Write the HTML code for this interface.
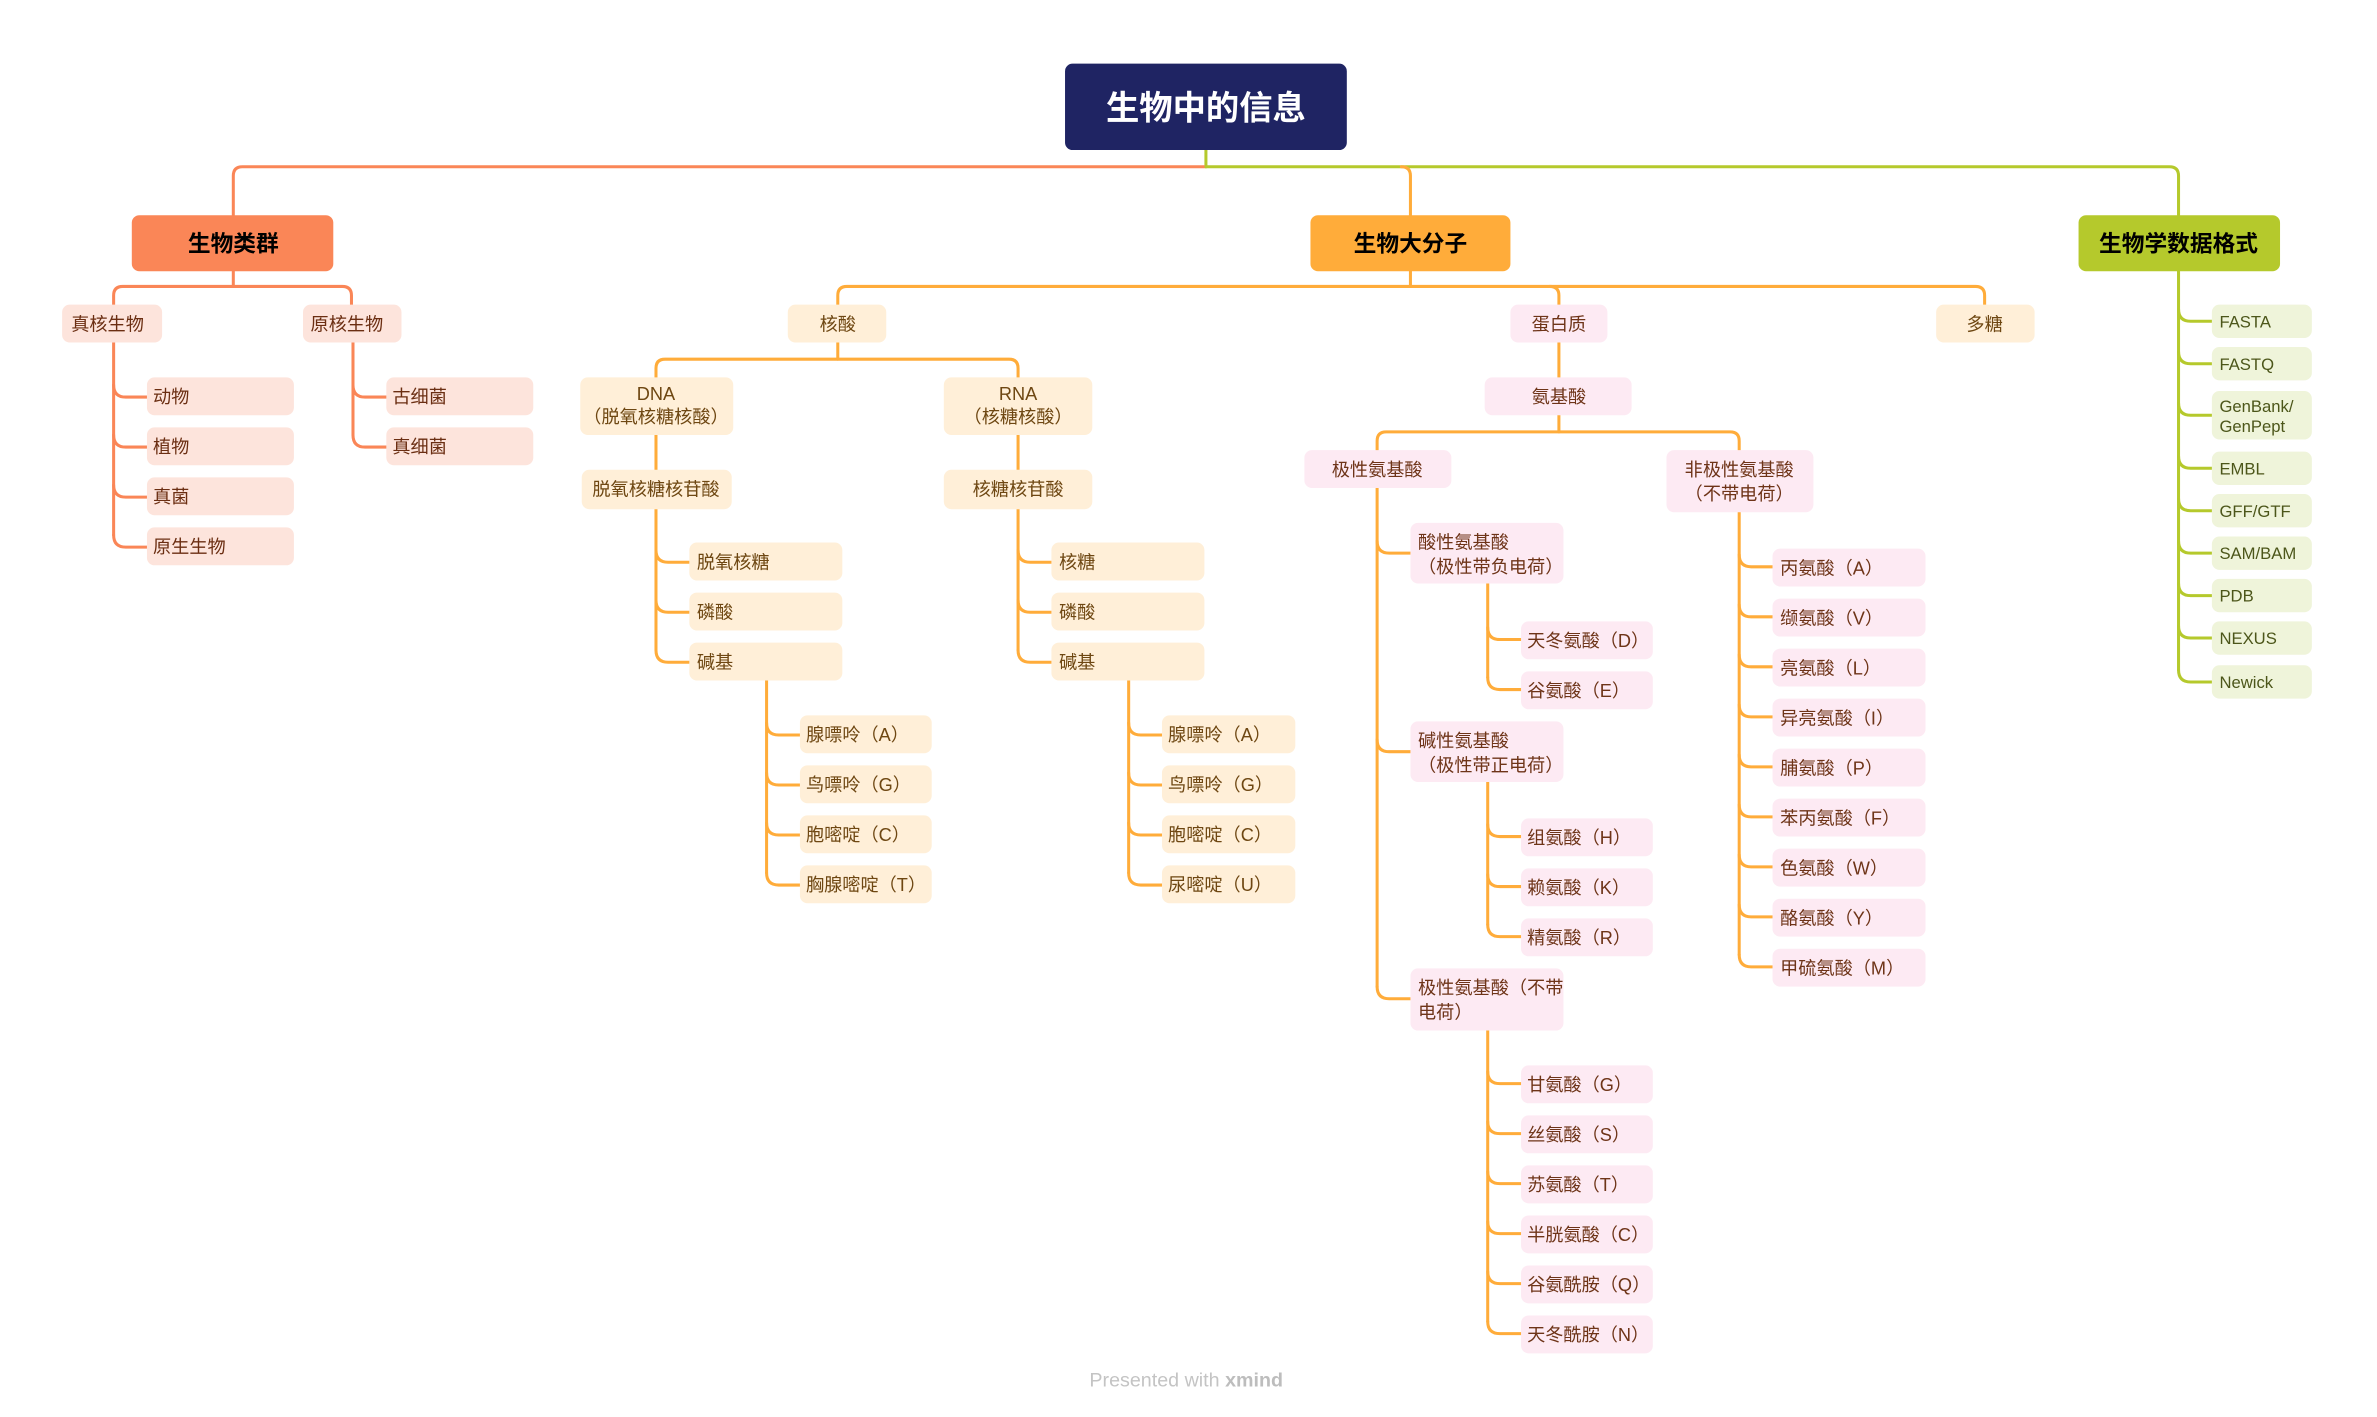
<!DOCTYPE html>
<html><head><meta charset="utf-8"><style>
html,body{margin:0;padding:0;background:#fff;width:2377px;height:1417px;overflow:hidden}
svg{display:block}
text{font-family:"Liberation Sans","Noto Sans CJK SC",sans-serif;font-size:12px}
.s text,text.s{fill:#6b2e12}
.c text,text.c{fill:#6e4712}
.p text,text.p{fill:#6e3418}
.g text,text.g{fill:#4c561a}
</style></head><body>
<svg width="2377" height="1417" viewBox="0 0 1569 935" preserveAspectRatio="none" xmlns="http://www.w3.org/2000/svg">
<g fill="none" stroke-width="2" stroke-linecap="round">
<path d="M796 99 V110" stroke="#b5c92c"/>
<path d="M154 142 V116 Q154 110 160 110 H796" stroke="#fa8657"/>
<path d="M796 110 H1432 Q1438 110 1438 116 V142" stroke="#b5c92c"/>
<path d="M925 110 Q931 110 931 116 V142" stroke="#ffac3a"/>
<g stroke="#fa8657">
<path d="M154 179 V189"/>
<path d="M75 201 V195 Q75 189 81 189 H226 Q232 189 232 195 V201"/>
<path d="M75 226 V353"/>
<path d="M75 254 q0 8 8 8 H97"/><path d="M75 287 q0 8 8 8 H97"/><path d="M75 320 q0 8 8 8 H97"/><path d="M75 353 q0 8 8 8 H97"/>
<path d="M233 226 V287"/>
<path d="M233 254 q0 8 8 8 H255"/><path d="M233 287 q0 8 8 8 H255"/>
</g>
<g stroke="#ffac3a">
<path d="M931 179 V189"/>
<path d="M553 201 V195 Q553 189 559 189 H1304 Q1310 189 1310 195 V201"/>
<path d="M1023 189 Q1029 189 1029 195 V201"/>
<path d="M553 226 V237"/>
<path d="M433 249 V243 Q433 237 439 237 H666 Q672 237 672 243 V249"/>
<path d="M433 287 V310"/><path d="M672 287 V310"/>
<path d="M433 336 V429"/>
<path d="M433 363 q0 8 8 8 H455"/><path d="M433 396 q0 8 8 8 H455"/><path d="M433 429 q0 8 8 8 H455"/>
<path d="M506 449 V576"/>
<path d="M506 477 q0 8 8 8 H528"/><path d="M506 510 q0 8 8 8 H528"/><path d="M506 543 q0 8 8 8 H528"/><path d="M506 576 q0 8 8 8 H528"/>
<path d="M672 336 V429"/>
<path d="M672 363 q0 8 8 8 H694"/><path d="M672 396 q0 8 8 8 H694"/><path d="M672 429 q0 8 8 8 H694"/>
<path d="M745 449 V576"/>
<path d="M745 477 q0 8 8 8 H767"/><path d="M745 510 q0 8 8 8 H767"/><path d="M745 543 q0 8 8 8 H767"/><path d="M745 576 q0 8 8 8 H767"/>
<path d="M1029 226 V249"/>
<path d="M1029 274 V285"/>
<path d="M909 297 V291 Q909 285 915 285 H1142 Q1148 285 1148 291 V297"/>
<path d="M909 322 V651"/>
<path d="M909 357 q0 8 8 8 H931"/><path d="M909 488 q0 8 8 8 H931"/><path d="M909 651 q0 8 8 8 H931"/>
<path d="M982 385 V447"/>
<path d="M982 414 q0 8 8 8 H1004"/><path d="M982 447 q0 8 8 8 H1004"/>
<path d="M982 516 V610"/>
<path d="M982 544 q0 8 8 8 H1004"/><path d="M982 577 q0 8 8 8 H1004"/><path d="M982 610 q0 8 8 8 H1004"/>
<path d="M982 680 V872"/>
<path d="M982 707 q0 8 8 8 H1004"/><path d="M982 740 q0 8 8 8 H1004"/><path d="M982 773 q0 8 8 8 H1004"/><path d="M982 806 q0 8 8 8 H1004"/><path d="M982 839 q0 8 8 8 H1004"/><path d="M982 872 q0 8 8 8 H1004"/>
<path d="M1148 338 V630"/>
<path d="M1148 366 q0 8 8 8 H1170"/><path d="M1148 399 q0 8 8 8 H1170"/><path d="M1148 432 q0 8 8 8 H1170"/><path d="M1148 465 q0 8 8 8 H1170"/><path d="M1148 498 q0 8 8 8 H1170"/><path d="M1148 531 q0 8 8 8 H1170"/><path d="M1148 564 q0 8 8 8 H1170"/><path d="M1148 597 q0 8 8 8 H1170"/><path d="M1148 630 q0 8 8 8 H1170"/>
</g>
<g stroke="#b5c92c">
<path d="M1438 179 V442"/>
<path d="M1438 204 q0 8 8 8 H1460"/><path d="M1438 232 q0 8 8 8 H1460"/><path d="M1438 266 q0 8 8 8 H1460"/><path d="M1438 301 q0 8 8 8 H1460"/><path d="M1438 329 q0 8 8 8 H1460"/><path d="M1438 357 q0 8 8 8 H1460"/><path d="M1438 385 q0 8 8 8 H1460"/><path d="M1438 413 q0 8 8 8 H1460"/><path d="M1438 442 q0 8 8 8 H1460"/>
</g>
</g>

<rect x="703" y="42" width="186" height="57" rx="5" fill="#1f2463"/>
<text x="796" y="79" text-anchor="middle" fill="#fff" style="font-size:22px;font-weight:bold">生物中的信息</text>
<rect x="87" y="142" width="133" height="37" rx="5" fill="#fa8657"/>
<text x="154" y="166" text-anchor="middle" fill="#000" style="font-size:15px;font-weight:bold">生物类群</text>
<rect x="865" y="142" width="132" height="37" rx="5" fill="#ffac3a"/>
<text x="931" y="166" text-anchor="middle" fill="#000" style="font-size:15px;font-weight:bold">生物大分子</text>
<rect x="1372" y="142" width="133" height="37" rx="5" fill="#b5c92c"/>
<text x="1438" y="166" text-anchor="middle" fill="#000" style="font-size:15px;font-weight:bold">生物学数据格式</text>

<g class="s">
<g fill="#fde4dc">
<rect x="41" y="201" width="66" height="25" rx="5"/><rect x="200" y="201" width="65" height="25" rx="5"/>
<rect x="97" y="249" width="97" height="25" rx="5"/><rect x="97" y="282" width="97" height="25" rx="5"/><rect x="97" y="315" width="97" height="25" rx="5"/><rect x="97" y="348" width="97" height="25" rx="5"/>
<rect x="255" y="249" width="97" height="25" rx="5"/><rect x="255" y="282" width="97" height="25" rx="5"/>
</g>
<text x="47" y="218">真核生物</text><text x="205" y="218">原核生物</text>
<text x="101" y="266">动物</text><text x="101" y="299">植物</text><text x="101" y="332">真菌</text><text x="101" y="365">原生生物</text>
<text x="259" y="266">古细菌</text><text x="259" y="299">真细菌</text>
</g>

<g class="c">
<g fill="#ffefd8">
<rect x="520" y="201" width="65" height="25" rx="5"/><rect x="1278" y="201" width="65" height="25" rx="5"/>
<rect x="383" y="249" width="101" height="38" rx="5"/><rect x="623" y="249" width="98" height="38" rx="5"/>
<rect x="384" y="310" width="99" height="26" rx="5"/><rect x="623" y="310" width="98" height="26" rx="5"/>
<rect x="455" y="358" width="101" height="25" rx="5"/><rect x="455" y="391" width="101" height="25" rx="5"/><rect x="455" y="424" width="101" height="25" rx="5"/>
<rect x="694" y="358" width="101" height="25" rx="5"/><rect x="694" y="391" width="101" height="25" rx="5"/><rect x="694" y="424" width="101" height="25" rx="5"/>
<rect x="528" y="472" width="87" height="25" rx="5"/><rect x="528" y="505" width="87" height="25" rx="5"/><rect x="528" y="538" width="87" height="25" rx="5"/><rect x="528" y="571" width="87" height="25" rx="5"/>
<rect x="767" y="472" width="88" height="25" rx="5"/><rect x="767" y="505" width="88" height="25" rx="5"/><rect x="767" y="538" width="88" height="25" rx="5"/><rect x="767" y="571" width="88" height="25" rx="5"/>
</g>
<text x="553" y="218" text-anchor="middle">核酸</text><text x="1310" y="218" text-anchor="middle">多糖</text>
<text x="433" y="264" text-anchor="middle">DNA</text><text x="433" y="279" text-anchor="middle">（脱氧核糖核酸）</text>
<text x="672" y="264" text-anchor="middle">RNA</text><text x="672" y="279" text-anchor="middle">（核糖核酸）</text>
<text x="433" y="327" text-anchor="middle">脱氧核糖核苷酸</text><text x="672" y="327" text-anchor="middle">核糖核苷酸</text>
<text x="460" y="375">脱氧核糖</text><text x="460" y="408">磷酸</text><text x="460" y="441">碱基</text>
<text x="699" y="375">核糖</text><text x="699" y="408">磷酸</text><text x="699" y="441">碱基</text>
<text x="532" y="489">腺嘌呤（A）</text><text x="532" y="522">鸟嘌呤（G）</text><text x="532" y="555">胞嘧啶（C）</text><text x="532" y="588">胸腺嘧啶（T）</text>
<text x="771" y="489">腺嘌呤（A）</text><text x="771" y="522">鸟嘌呤（G）</text><text x="771" y="555">胞嘧啶（C）</text><text x="771" y="588">尿嘧啶（U）</text>
</g>

<g class="p">
<g fill="#fdeaf3">
<rect x="997" y="201" width="64" height="25" rx="5"/>
<rect x="980" y="249" width="97" height="25" rx="5"/>
<rect x="861" y="297" width="97" height="25" rx="5"/><rect x="1100" y="297" width="97" height="41" rx="5"/>
<rect x="931" y="345" width="101" height="40" rx="5"/><rect x="931" y="476" width="101" height="40" rx="5"/><rect x="931" y="639" width="101" height="41" rx="5"/>
<rect x="1004" y="410" width="87" height="25" rx="5"/><rect x="1004" y="443" width="87" height="25" rx="5"/>
<rect x="1004" y="540" width="87" height="25" rx="5"/><rect x="1004" y="573" width="87" height="25" rx="5"/><rect x="1004" y="606" width="87" height="25" rx="5"/>
<rect x="1004" y="703" width="87" height="25" rx="5"/><rect x="1004" y="736" width="87" height="25" rx="5"/><rect x="1004" y="769" width="87" height="25" rx="5"/><rect x="1004" y="802" width="87" height="25" rx="5"/><rect x="1004" y="835" width="87" height="25" rx="5"/><rect x="1004" y="868" width="87" height="25" rx="5"/>
<rect x="1170" y="362" width="101" height="25" rx="5"/><rect x="1170" y="395" width="101" height="25" rx="5"/><rect x="1170" y="428" width="101" height="25" rx="5"/><rect x="1170" y="461" width="101" height="25" rx="5"/><rect x="1170" y="494" width="101" height="25" rx="5"/><rect x="1170" y="527" width="101" height="25" rx="5"/><rect x="1170" y="560" width="101" height="25" rx="5"/><rect x="1170" y="593" width="101" height="25" rx="5"/><rect x="1170" y="626" width="101" height="25" rx="5"/>
</g>
<text x="1029" y="218" text-anchor="middle">蛋白质</text>
<text x="1029" y="266" text-anchor="middle">氨基酸</text>
<text x="909" y="314" text-anchor="middle">极性氨基酸</text>
<text x="1148" y="314" text-anchor="middle">非极性氨基酸</text><text x="1148" y="330" text-anchor="middle">（不带电荷）</text>
<text x="936" y="362">酸性氨基酸</text><text x="936" y="378">（极性带负电荷）</text>
<text x="936" y="493">碱性氨基酸</text><text x="936" y="509">（极性带正电荷）</text>
<text x="936" y="656">极性氨基酸（不带</text><text x="936" y="672">电荷）</text>
<text x="1008" y="427">天冬氨酸（D）</text><text x="1008" y="460">谷氨酸（E）</text>
<text x="1008" y="557">组氨酸（H）</text><text x="1008" y="590">赖氨酸（K）</text><text x="1008" y="623">精氨酸（R）</text>
<text x="1008" y="720">甘氨酸（G）</text><text x="1008" y="753">丝氨酸（S）</text><text x="1008" y="786">苏氨酸（T）</text><text x="1008" y="819">半胱氨酸（C）</text><text x="1008" y="852">谷氨酰胺（Q）</text><text x="1008" y="885">天冬酰胺（N）</text>
<text x="1175" y="379">丙氨酸（A）</text><text x="1175" y="412">缬氨酸（V）</text><text x="1175" y="445">亮氨酸（L）</text><text x="1175" y="478">异亮氨酸（I）</text><text x="1175" y="511">脯氨酸（P）</text><text x="1175" y="544">苯丙氨酸（F）</text><text x="1175" y="577">色氨酸（W）</text><text x="1175" y="610">酪氨酸（Y）</text><text x="1175" y="643">甲硫氨酸（M）</text>
</g>

<g class="g">
<g fill="#eff4da">
<rect x="1460" y="201" width="66" height="22" rx="5"/><rect x="1460" y="229" width="66" height="22" rx="5"/><rect x="1460" y="258" width="66" height="32" rx="5"/><rect x="1460" y="298" width="66" height="22" rx="5"/><rect x="1460" y="326" width="66" height="22" rx="5"/><rect x="1460" y="354" width="66" height="22" rx="5"/><rect x="1460" y="382" width="66" height="22" rx="5"/><rect x="1460" y="410" width="66" height="22" rx="5"/><rect x="1460" y="439" width="66" height="22" rx="5"/>
</g>
<text x="1465" y="216" style="font-size:11px">FASTA</text><text x="1465" y="244" style="font-size:11px">FASTQ</text>
<text x="1465" y="272" style="font-size:11px">GenBank/</text><text x="1465" y="285" style="font-size:11px">GenPept</text>
<text x="1465" y="313" style="font-size:11px">EMBL</text><text x="1465" y="341" style="font-size:11px">GFF/GTF</text><text x="1465" y="369" style="font-size:11px">SAM/BAM</text><text x="1465" y="397" style="font-size:11px">PDB</text><text x="1465" y="425" style="font-size:11px">NEXUS</text><text x="1465" y="454" style="font-size:11px">Newick</text>
</g>

<text x="783" y="915" text-anchor="middle" fill="#c4c4c4" style="font-size:13px">Presented with <tspan font-weight="bold" fill="#bdbdbd">xmind</tspan></text>
</svg>
</body></html>
